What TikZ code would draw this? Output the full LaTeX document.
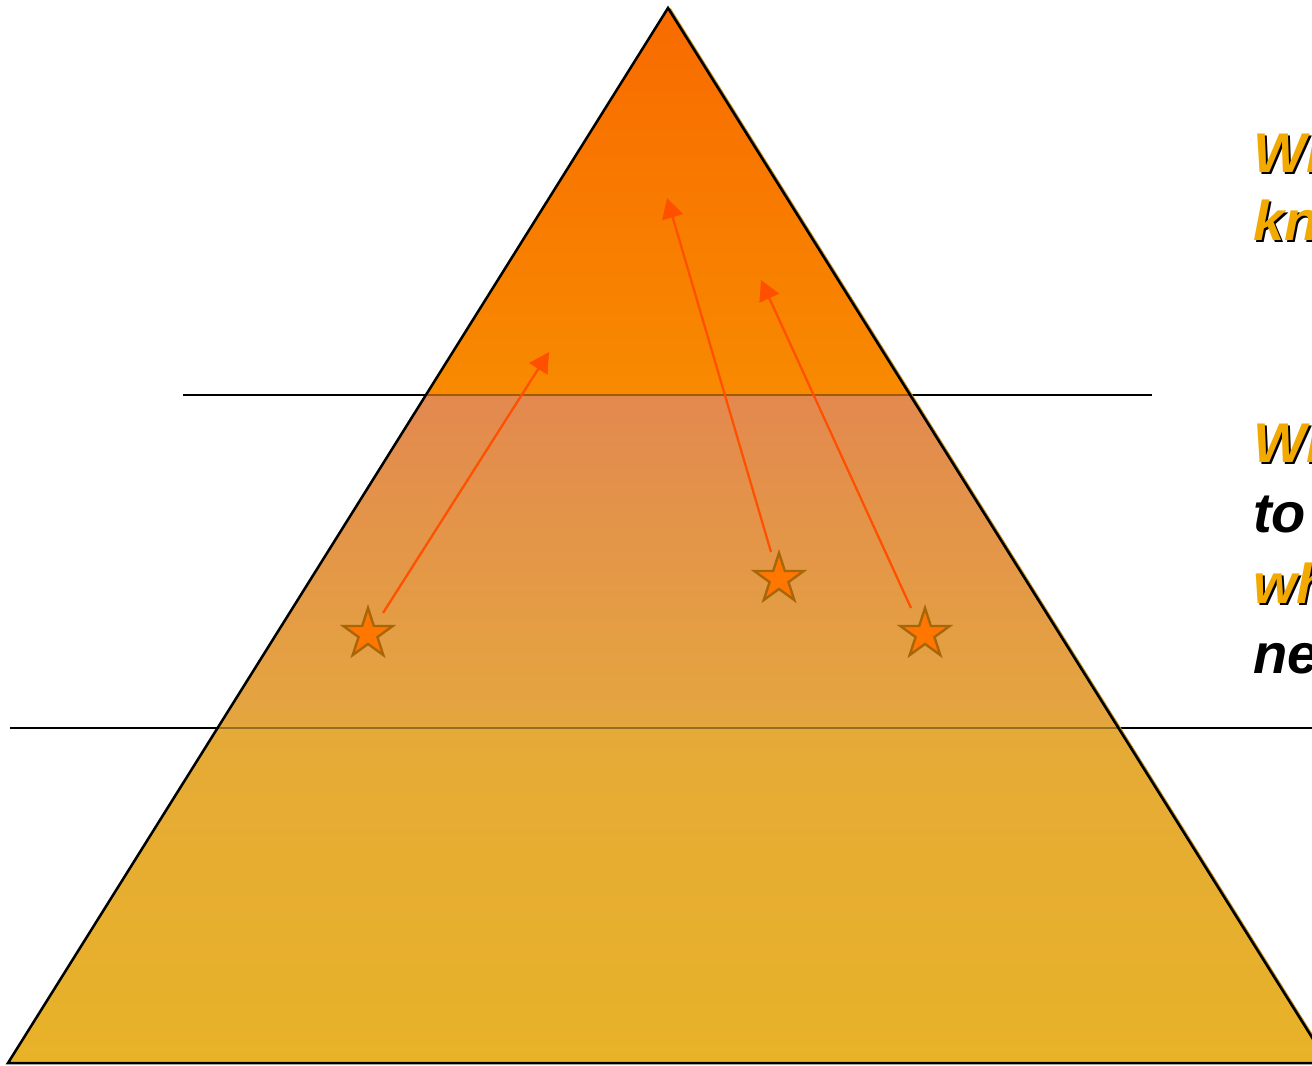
\documentclass[tikz,border=0pt]{standalone}
\usepackage{fontspec}
\setmainfont{Liberation Sans}
\usetikzlibrary{arrows.meta, shapes.geometric}
\definecolor{pyrtop}{RGB}{248,106,0}
\definecolor{pyrtopend}{RGB}{248,138,0}
\definecolor{pyrmid}{RGB}{227,137,80}
\definecolor{pyrmidend}{RGB}{228,166,62}
\definecolor{pyrlow}{RGB}{229,170,55}
\definecolor{pyrlowend}{RGB}{232,178,40}
\definecolor{pyrshadow}{RGB}{190,140,25}
\definecolor{starfill}{RGB}{255,118,0}
\definecolor{starline}{RGB}{168,102,8}
\definecolor{arrowred}{RGB}{255,80,0}
\definecolor{capgold}{RGB}{242,170,0}

\begin{document}
\begin{tikzpicture}[
    x=0.75pt, y=-0.75pt,
    level/.style={draw=black, line width=1.5pt},
    levelin/.style={draw=black, opacity=0.35, line width=1.5pt},
    goal/.style={star, star points=5, star point ratio=2.618, minimum size=39pt,
                 inner sep=0pt, fill=starfill, draw=starline, line width=1.8pt},
    move/.style={-{Triangle[length=15pt, width=16pt]}, line width=1.7pt, arrowred},
    caption/.style={anchor=base west, inner sep=0pt,
                    font=\fontsize{42}{50}\selectfont\bfseries\itshape},
    shadow/.style={caption, text=black},
]
    \clip (0,0) rectangle (1312,1065);

    % Level lines (behind the pyramid)
    \draw[level] (183,395) -- (1152,395);
    \draw[level] (10,728) -- (1320,728);

    % Pyramid
    \coordinate (apex) at (668,8);
    \coordinate (bl) at (8,1063);
    \coordinate (br) at (1328,1063);
    \fill[pyrshadow] ([xshift=2pt]apex) -- ([xshift=2pt]bl) -- ([xshift=2pt]br) -- cycle;
    \begin{scope}
        \clip (apex) -- (bl) -- (br) -- cycle;
        \shade[top color=pyrtop, bottom color=pyrtopend] (0,0) rectangle (1340,395);
        \shade[top color=pyrmid, bottom color=pyrmidend] (0,395) rectangle (1340,728);
        \shade[top color=pyrlow, bottom color=pyrlowend] (0,728) rectangle (1340,1065);
        \draw[levelin] (0,395) -- (1340,395);
        \draw[levelin] (0,728) -- (1340,728);
    \end{scope}
    \draw[line width=1.9pt, line join=miter] (apex) -- (bl) -- (br) -- cycle;

    % Stars
    \node[goal] (s1) at (368,634) {};
    \node[goal] (s2) at (779,579) {};
    \node[goal] (s3) at (925,634) {};

    % Moves up the pyramid
    \coordinate (a1) at (383,613);
    \coordinate (a2) at (771,552);
    \coordinate (a3) at (911,608);
    \coordinate (t1) at (549,352);
    \coordinate (t2) at (667,198);
    \coordinate (t3) at (761,280);
    \draw[move] (a1) -- (t1);
    \draw[move] (a2) -- (t2);
    \draw[move] (a3) -- (t3);

    % Captions (cut by the right edge)
    \node[shadow] (q1s) at (1255,174) {Wh};
    \node[caption, text=capgold] (q1) at (1253,172) {Wh};
    \node[shadow] (q2s) at (1255,242) {kn};
    \node[caption, text=capgold] (q2) at (1253,240) {kn};

    \node[shadow] (q3s) at (1255,464) {Wh};
    \node[caption, text=capgold] (q3) at (1253,462) {Wh};
    \node[caption, text=black] (q4) at (1253,532) {to};
    \node[shadow] (q5s) at (1255,605) {wh};
    \node[caption, text=capgold] (q5) at (1253,603) {wh};
    \node[caption, text=black] (q6) at (1253,673) {ne};
\end{tikzpicture}
\end{document}
